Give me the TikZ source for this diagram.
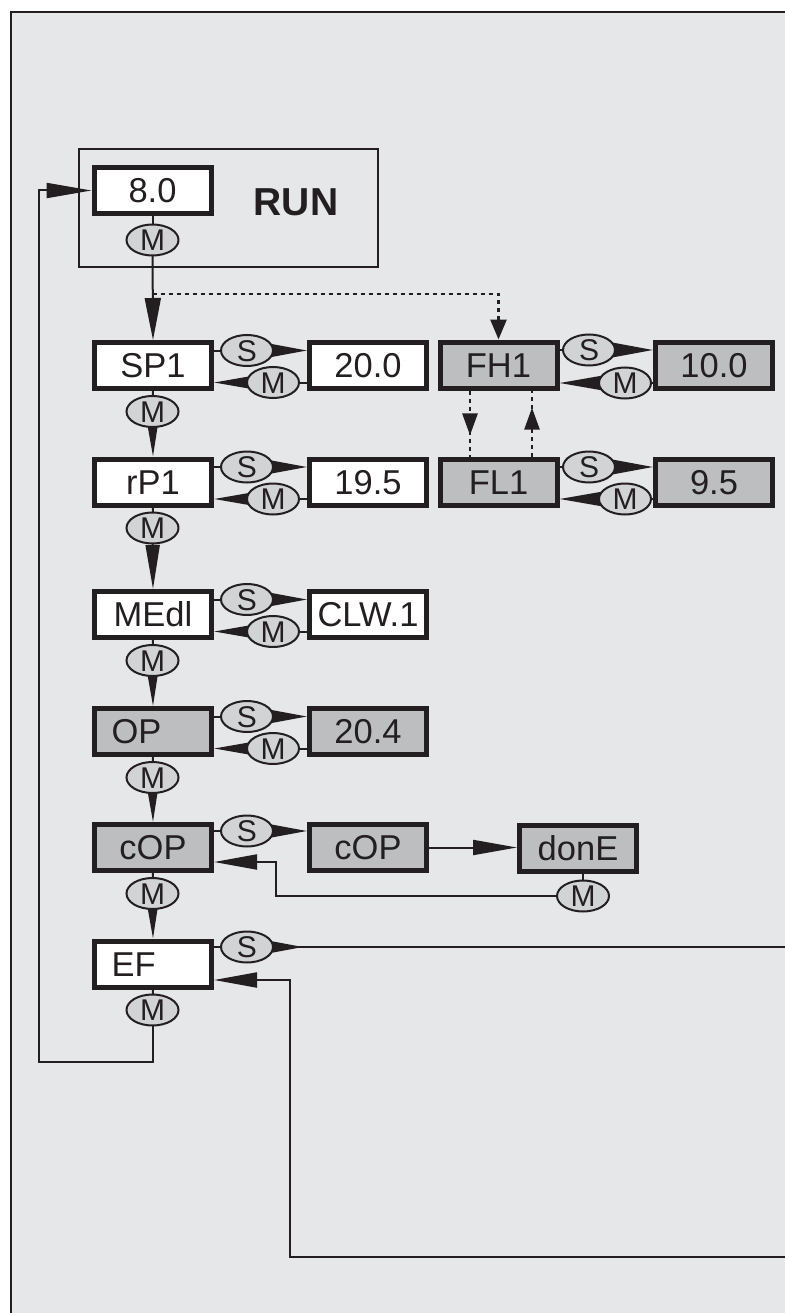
\documentclass[tikz,border=0pt]{standalone}
\usepackage{fontspec}
\setmainfont{Liberation Sans}
\usetikzlibrary{arrows.meta,shapes.geometric,decorations.markings}
\definecolor{bgc}{HTML}{E6E7E8}
\definecolor{ink}{HTML}{231F20}
\definecolor{boxg}{HTML}{BCBEC0}
\definecolor{ellg}{HTML}{D1D3D4}
\pgfdeclarelayer{back}
\pgfdeclarelayer{conn}
\pgfsetlayers{back,conn,main}
\newcommand\sidelinks[4]{%
  \draw[conn] (#1.east |- #3) -- (#3.center);
  \draw[conn,-{Triangle[length=45pt,width=16pt]}] (#3.center) -- (#2.west |- #3);
  \draw[conn] (#2.west |- #4) -- (#4.center);
  \draw[conn,-{Triangle[length=45pt,width=15pt]}] (#4.center) -- (#1.east |- #4);}
\newcommand\downlink[3]{%
  \draw[conn] (#1.south) -- (#2.center);
  \draw[conn,-{Triangle[length=44pt,width=14pt]}] (#2.center) -- (#3.north);}
\begin{document}
\begin{tikzpicture}[x=1pt,y=-1pt,
  disp/.style={draw=ink,line width=5pt,fill=white,minimum width=117pt,minimum height=46pt,
    inner sep=0pt,text height=24.6pt,text depth=0pt,text=ink,font=\fontsize{34.5}{34.5}\selectfont},
  greybox/.style={disp,fill=boxg},
  leftal/.style={text width=83pt,align=left},
  keyb/.style={ellipse,draw=ink,line width=2pt,fill=ellg,minimum width=52pt,minimum height=31pt,
    inner sep=0pt,text height=21.5pt,text depth=0pt,text=ink,font=\fontsize{30}{30}\selectfont},
  conn/.style={draw=ink,line width=2pt},
  dotl/.style={draw=ink,line width=2.8pt,dash pattern=on 4pt off 4pt},
]
\useasboundingbox (0,0) rectangle (784,1313);
\begin{pgfonlayer}{back}
  \fill[bgc] (11,12) rectangle (810,1330);
  \draw[ink,line width=2.5pt] (11,12) rectangle (810,1330);
  \draw[ink,line width=1.6pt] (79,149) rectangle (378,267);
\end{pgfonlayer}
% RUN block
\node[disp] (v80) at (152.5,190.5) {8.0};
\node[text=ink,font=\fontsize{39}{39}\selectfont\bfseries,text height=28pt,text depth=0pt,inner sep=0pt] (run) at (296,202) {RUN};
\node[keyb] (mrun) at (152.5,240) {M};
% left column
\node[disp] (sp1) at (153,365.5) {SP1};
\node[disp] (v200) at (368,365.5) {20.0};
\node[keyb] (ssp1) at (247,350.5) {S};
\node[keyb] (msp1) at (273,382.5) {M};
\node[keyb] (dsp1) at (152.5,411.5) {M};
\node[disp] (rp1) at (153,482) {rP1};
\node[disp] (v195) at (368,482) {19.5};
\node[keyb] (srp1) at (247,467) {S};
\node[keyb] (mrp1) at (273,499) {M};
\node[keyb] (drp1) at (152.5,528) {M};
\node[disp] (medl) at (153,614.5) {MEdl};
\node[disp] (clw) at (368,614.5) {CLW.1};
\node[keyb] (smedl) at (247,599.5) {S};
\node[keyb] (mmedl) at (273,631.5) {M};
\node[keyb] (dmedl) at (152.5,660.5) {M};
\node[greybox,leftal] (op) at (153,731.5) {OP};
\node[greybox] (v204) at (368,731.5) {20.4};
\node[keyb] (sop) at (247,716.5) {S};
\node[keyb] (mop) at (273,748.5) {M};
\node[keyb] (dop) at (152.5,777.5) {M};
\node[greybox] (cop) at (153,847.5) {cOP};
\node[greybox] (cop2) at (368,847.5) {cOP};
\node[greybox] (done) at (578,848.5) {donE};
\node[keyb] (scop) at (247,831) {S};
\node[keyb] (mdone) at (583,896) {M};
\node[keyb] (dcop) at (152.5,893.5) {M};
\node[disp,leftal] (ef) at (153,964) {EF};
\node[keyb] (sef) at (247,947) {S};
\node[keyb] (mef) at (152.5,1010) {M};
% right column
\node[greybox] (fh1) at (498.5,365) {FH1};
\node[greybox] (v100) at (714,365) {10.0};
\node[keyb] (sfh1) at (589,350) {S};
\node[keyb] (mfh1) at (625,383) {M};
\node[greybox] (fl1) at (498.5,482) {FL1};
\node[greybox] (v95) at (714,482) {9.5};
\node[keyb] (sfl1) at (589,467) {S};
\node[keyb] (mfl1) at (625,499) {M};
% free ends and bends
\coordinate (dj) at (152.5,294);
\coordinate (xdn) at (470,0);
\coordinate (xup) at (532,0);
\coordinate (rbend) at (276,862);
\coordinate (efout) at (810,947);
\coordinate (efin) at (810,1257);
\coordinate (ebend) at (290,980);
\coordinate (lbend) at (39,1062);
\begin{pgfonlayer}{conn}
  \draw[conn] (v80.south) -- (mrun.center);
  \draw[conn,-{Triangle[length=42pt,width=16pt]}] (mrun.center) -- (sp1.north);
  \draw[dotl,-{Triangle[length=20pt,width=16pt]}] (dj) -| (fh1.north);
  \draw[dotl,postaction=decorate,decoration={markings,mark=at position 0.68 with {\arrow{Triangle[length=22pt,width=15pt]}}}]
    (fh1.south -| xdn) -- (fl1.north -| xdn);
  \draw[dotl,postaction=decorate,decoration={markings,mark=at position 0.74 with {\arrow{Triangle[length=22pt,width=15pt]}}}]
    (fl1.north -| xup) -- (fh1.south -| xup);
  \sidelinks{sp1}{v200}{ssp1}{msp1}
  \sidelinks{rp1}{v195}{srp1}{mrp1}
  \sidelinks{medl}{clw}{smedl}{mmedl}
  \sidelinks{op}{v204}{sop}{mop}
  \sidelinks{fh1}{v100}{sfh1}{mfh1}
  \sidelinks{fl1}{v95}{sfl1}{mfl1}
  \downlink{sp1}{dsp1}{rp1}
  \downlink{rp1}{drp1}{medl}
  \downlink{medl}{dmedl}{op}
  \downlink{op}{dop}{cop}
  \downlink{cop}{dcop}{ef}
  % cOP row
  \draw[conn] (cop.east |- scop) -- (scop.center);
  \draw[conn,-{Triangle[length=45pt,width=16pt]}] (scop.center) -- (cop2.west |- scop);
  \draw[conn,-{Triangle[length=44pt,width=15pt]}] (cop2.east) -- (done.west |- cop2.east);
  \draw[conn] (done.south -| mdone) -- (mdone.center);
  \draw[conn,-{Triangle[length=43pt,width=15pt]}] (mdone.center) -| (rbend) -- (cop.east |- rbend);
  % EF row
  \draw[conn] (ef.east |- sef) -- (sef.center);
  \draw[conn] (sef.center) -- (efout);
  \draw[conn,-{Triangle[length=42pt,width=15pt]}] (sef.center) -- ++(56,0);
  \draw[conn,-{Triangle[length=43pt,width=15pt]}] (efin) -| (ebend) -- (ef.east |- ebend);
  \draw[conn] (ef.south) -- (mef.center);
  \draw[conn,-{Triangle[length=45pt,width=15pt]}] (mef.center) |- (lbend) |- (v80.west);
\end{pgfonlayer}
\end{tikzpicture}
\end{document}
